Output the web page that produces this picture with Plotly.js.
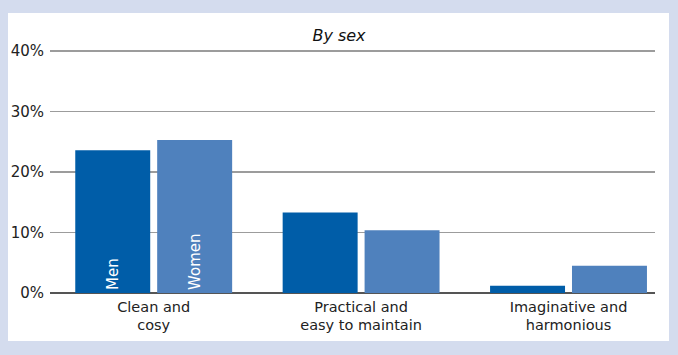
<!DOCTYPE html>
<html>
<head>
<meta charset="utf-8">
<script src="https://cdn.plot.ly/plotly-3.0.1.min.js"></script>
<style>html,body{margin:0;padding:0;background:#d4dcee;}#chart{width:678px;height:355px;}</style>
</head>
<body>
<div id="chart"></div>
<script>
const categories = ["Clean and<br>cosy", "Practical and<br>easy to maintain", "Imaginative and<br>harmonious"];
const menValues = [23.6, 13.3, 1.2];
const womenValues = [25.3, 10.4, 4.5];
const menLabels = ["Men", "", ""];
const womenLabels = ["Women", "", ""];
const yTicks = [0, 10, 20, 30, 40];
const yTickLabels = ["0%", "10%", "20%", "30%", "40%"];
const titleText = "By sex";

const xIdx = categories.map((_, i) => i);
const font = "DejaVu Sans, sans-serif";

const traces = [
  {
    type: "bar", x: xIdx, y: menValues, name: "Men",
    marker: {color: "#005da8"},
    text: menLabels, textposition: "inside", insidetextanchor: "start",
    textangle: -90, textfont: {color: "#ffffff", size: 15, family: font},
    hoverinfo: "skip"
  },
  {
    type: "bar", x: xIdx, y: womenValues, name: "Women",
    marker: {color: "#4f81bd"},
    text: womenLabels, textposition: "inside", insidetextanchor: "start",
    textangle: -90, textfont: {color: "#ffffff", size: 15, family: font},
    hoverinfo: "skip"
  }
];

const layout = {
  width: 678, height: 355,
  margin: {l: 50, r: 23, t: 50, b: 62},
  paper_bgcolor: "#d4dcee",
  plot_bgcolor: "rgba(0,0,0,0)",
  showlegend: false,
  barmode: "group",
  bargap: 0.21,
  bargroupgap: 0.085,
  font: {family: font, color: "#222222", size: 14},
  title: {
    text: "<i>" + titleText + "</i>",
    font: {family: font, size: 16, color: "#111111"},
    x: 0.5, xref: "container", y: 0.901, yref: "container", yanchor: "middle"
  },
  xaxis: {
    range: [-0.5, 2.417],
    tickmode: "array", tickvals: xIdx, ticktext: categories,
    showgrid: false, zeroline: false, showline: false, ticks: "",
    ticklabelstandoff: 3,
    tickfont: {size: 14.5, color: "#222222", family: font},
    fixedrange: true
  },
  yaxis: {
    range: [0, 40.2],
    tickmode: "array", tickvals: yTicks, ticktext: yTickLabels,
    showgrid: true, gridcolor: "#9c9c9c", gridwidth: 1.5,
    zeroline: true, zerolinecolor: "#555555", zerolinewidth: 1.2,
    showline: false, ticks: "", ticklabelstandoff: 5,
    tickfont: {size: 15, color: "#222222", family: font},
    fixedrange: true
  },
  shapes: [
    {type: "rect", xref: "paper", yref: "paper", layer: "below",
     x0: (8 - 50) / 605, x1: (669 - 50) / 605,
     y0: (293 - 341) / 243, y1: (293 - 13) / 243,
     fillcolor: "#ffffff", line: {width: 0}}
  ]
};

Plotly.newPlot("chart", traces, layout, {displayModeBar: false, staticPlot: true});
</script>
</body>
</html>
